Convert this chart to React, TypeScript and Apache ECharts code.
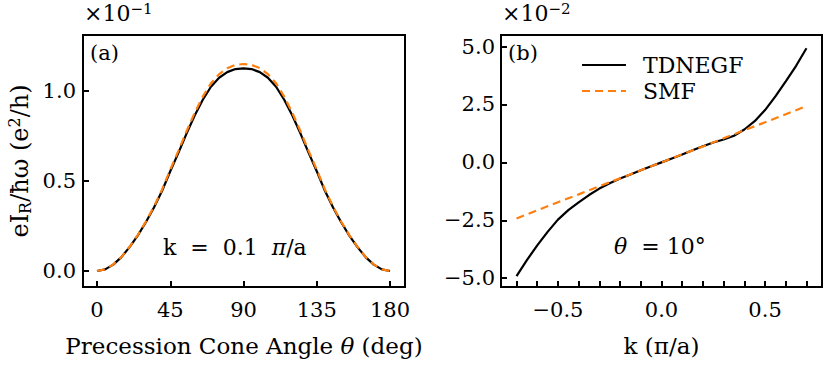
import React, { useEffect, useRef } from "react";
import * as echarts from "echarts";

// Panel (a): emitted current vs precession cone angle (×10^-1 e^2/h)
const thetaDeg = [0, 5, 10, 15, 20, 25, 30, 35, 40, 45, 50, 55, 60, 65, 70, 75, 80, 85, 90,
  95, 100, 105, 110, 115, 120, 125, 130, 135, 140, 145, 150, 155, 160, 165, 170, 175, 180];
const tdnegfA = [0, 0.009, 0.035, 0.077, 0.132, 0.196, 0.27, 0.352, 0.445, 0.553, 0.655, 0.762, 0.862, 0.95, 1.022, 1.072, 1.103, 1.12, 1.124,
  1.12, 1.103, 1.072, 1.022, 0.95, 0.862, 0.762, 0.655, 0.553, 0.445, 0.352, 0.27, 0.196, 0.132, 0.077, 0.035, 0.009, 0];
const smfA = [0, 0.009, 0.036, 0.078, 0.134, 0.199, 0.274, 0.357, 0.452, 0.562, 0.666, 0.775, 0.877, 0.967, 1.041, 1.092, 1.125, 1.143, 1.148,
  1.143, 1.125, 1.092, 1.041, 0.967, 0.877, 0.775, 0.666, 0.562, 0.452, 0.357, 0.274, 0.199, 0.134, 0.078, 0.036, 0.009, 0];

// Panel (b): current vs k (×10^-2 e^2/h)
const kVals = [-0.7, -0.65, -0.6, -0.55, -0.5, -0.45, -0.4, -0.35, -0.3, -0.25, -0.2, -0.15, -0.1, -0.05, 0,
  0.05, 0.1, 0.15, 0.2, 0.25, 0.3, 0.35, 0.4, 0.45, 0.5, 0.55, 0.6, 0.65, 0.7];
const tdnegfB = [-4.91, -4.22, -3.58, -3.0, -2.47, -2.06, -1.73, -1.41, -1.13, -0.9, -0.7, -0.52, -0.34, -0.17, 0,
  0.17, 0.34, 0.52, 0.7, 0.86, 0.99, 1.15, 1.42, 1.78, 2.26, 2.85, 3.5, 4.17, 4.93];
const kSmf = [-0.7, -0.6, -0.5, -0.4, -0.3, -0.2, -0.1, 0, 0.1, 0.2, 0.3, 0.4, 0.5, 0.6, 0.7];
const smfB = [-2.42, -2.07, -1.72, -1.38, -1.03, -0.69, -0.34, 0, 0.35, 0.69, 1.04, 1.39, 1.73, 2.08, 2.43];

const xTicksA = [0, 45, 90, 135, 180];
const yTicksA = [0, 0.5, 1.0];
const xTicksB = [-0.7, -0.6, -0.5, -0.4, -0.3, -0.2, -0.1, 0, 0.1, 0.2, 0.3, 0.4, 0.5, 0.6, 0.7];
const xLabelsB = [-0.5, 0, 0.5];
const yTicksB = [-5, -2.5, 0, 2.5, 5];

const FONT = "DejaVu Serif";
const ORANGE = "#ff7f0e";

const fmt = (v: number) => {
  const s = v.toFixed(1);
  return s.startsWith("-") ? "\u2212" + s.slice(1) : s;
};

const richOf = (size: number) => ({
  sub: { fontFamily: FONT, fontSize: Math.round(size * 0.68), color: "#000", padding: [Math.round(size * 0.45), 0, 0, 0] },
  sup: { fontFamily: FONT, fontSize: Math.round(size * 0.68), color: "#000", padding: [0, 0, Math.round(size * 0.45), 0] },
  i: { fontFamily: FONT, fontSize: size, color: "#000", fontStyle: "italic" },
  n: { fontFamily: FONT, fontSize: size, color: "#000" },
});

export default function App() {
  const ref = useRef<HTMLDivElement>(null);
  useEffect(() => {
    document.body.style.margin = "0";
    if (!ref.current) return;
    const chart = echarts.init(ref.current, null, { renderer: "svg" });
    const axisCommon = {
      axisLine: { show: true, onZero: false, lineStyle: { color: "#000", width: 2 } },
      splitLine: { show: false },
      axisTick: { show: true, inside: true, length: 6, lineStyle: { color: "#000", width: 2 } },
      axisLabel: { color: "#000", fontFamily: FONT, fontSize: 21, formatter: fmt },
    };
    chart.setOption({
      animation: false,
      backgroundColor: "#fff",
      grid: [
        { left: 83, top: 35, width: 322, height: 252, show: true, borderColor: "#000", borderWidth: 2 },
        { left: 501, top: 35, width: 321, height: 252, show: true, borderColor: "#000", borderWidth: 2 },
      ],
      legend: {
        data: ["TDNEGF", "SMF"],
        orient: "vertical",
        left: 576,
        top: 49,
        itemWidth: 44,
        itemHeight: 14,
        itemGap: 4,
        itemStyle: { opacity: 0, color: "transparent", borderColor: "transparent", borderWidth: 0 },
        textStyle: { color: "#000", fontFamily: FONT, fontSize: 22, padding: [0, 0, 0, 12] },
      },
      xAxis: [
        {
          ...axisCommon,
          type: "value", gridIndex: 0, min: -8.6, max: 189.2, position: "bottom",
          axisTick: { ...axisCommon.axisTick, customValues: xTicksA },
          axisLabel: { ...axisCommon.axisLabel, customValues: xTicksA, margin: 12, formatter: (v: number) => String(v) },
          name: "Precession Cone Angle {i|\u03b8} (deg)",
          nameLocation: "middle", nameGap: 47,
          nameTextStyle: { color: "#000", fontFamily: FONT, fontSize: 23, rich: richOf(23) },
        },
        {
          ...axisCommon,
          type: "value", gridIndex: 1, min: -0.775, max: 0.775, position: "bottom",
          axisTick: { ...axisCommon.axisTick, customValues: xTicksB },
          axisLabel: { ...axisCommon.axisLabel, customValues: xLabelsB, margin: 12 },
          name: "k (\u03c0/a)",
          nameLocation: "middle", nameGap: 47,
          nameTextStyle: { color: "#000", fontFamily: FONT, fontSize: 23, rich: richOf(23) },
        },
      ],
      yAxis: [
        {
          ...axisCommon,
          type: "value", gridIndex: 0, min: -0.089, max: 1.309, position: "left",
          axisTick: { ...axisCommon.axisTick, customValues: yTicksA },
          axisLabel: { ...axisCommon.axisLabel, customValues: yTicksA, margin: 7 },
          name: "eI{sub|R}/\u0127\u03c9 (e{sup|2}/h)",
          nameLocation: "middle", nameGap: 50,
          nameTextStyle: { color: "#000", fontFamily: FONT, fontSize: 24, rich: richOf(24) },
        },
        {
          ...axisCommon,
          type: "value", gridIndex: 1, min: -5.38, max: 5.5, position: "left",
          axisTick: { ...axisCommon.axisTick, customValues: yTicksB },
          axisLabel: { ...axisCommon.axisLabel, customValues: yTicksB, margin: 6 },
        },
      ],
      series: [
        {
          type: "line", name: "TDNEGF-a", xAxisIndex: 0, yAxisIndex: 0, showSymbol: false, symbol: "none",
          data: thetaDeg.map((t, i) => [t, tdnegfA[i]]),
          lineStyle: { color: "#000", width: 2.2 }, itemStyle: { color: "#000" }, z: 2,
        },
        {
          type: "line", name: "SMF-a", xAxisIndex: 0, yAxisIndex: 0, showSymbol: false, symbol: "none",
          data: thetaDeg.map((t, i) => [t, smfA[i]]),
          lineStyle: { color: ORANGE, width: 2.2, type: [8, 5] }, itemStyle: { color: ORANGE }, z: 3,
        },
        {
          type: "line", name: "TDNEGF", xAxisIndex: 1, yAxisIndex: 1, showSymbol: false, symbol: "none",
          data: kVals.map((k, i) => [k, tdnegfB[i]]),
          lineStyle: { color: "#000", width: 2.2 }, itemStyle: { color: "#000" }, z: 2,
        },
        {
          type: "line", name: "SMF", xAxisIndex: 1, yAxisIndex: 1, showSymbol: false, symbol: "none",
          data: kSmf.map((k, i) => [k, smfB[i]]),
          lineStyle: { color: ORANGE, width: 2.2, type: [8, 5] }, itemStyle: { color: ORANGE }, z: 3,
        },
      ],
      graphic: [
        { type: "text", left: 84, top: 1, style: { text: "\u00d710{sup|\u22121}", font: `22px "${FONT}"`, fill: "#000", rich: richOf(22) } },
        { type: "text", left: 502, top: 1, style: { text: "\u00d710{sup|\u22122}", font: `22px "${FONT}"`, fill: "#000", rich: richOf(22) } },
        { type: "text", left: 90, top: 42, style: { text: "(a)", font: `21px "${FONT}"`, fill: "#000" } },
        { type: "text", left: 508, top: 42, style: { text: "(b)", font: `21px "${FONT}"`, fill: "#000" } },
        { type: "text", left: 163, top: 236, style: { text: "k  =  0.1  {i|\u03c0}/a", font: `22px "${FONT}"`, fill: "#000", rich: richOf(22) } },
        { type: "text", left: 614, top: 235, style: { text: "{i|\u03b8}  = 10\u00b0", font: `22px "${FONT}"`, fill: "#000", rich: richOf(22) } },
      ],
    });
    return () => chart.dispose();
  }, []);
  return <div ref={ref} style={{ width: 830, height: 369 }} />;
}
